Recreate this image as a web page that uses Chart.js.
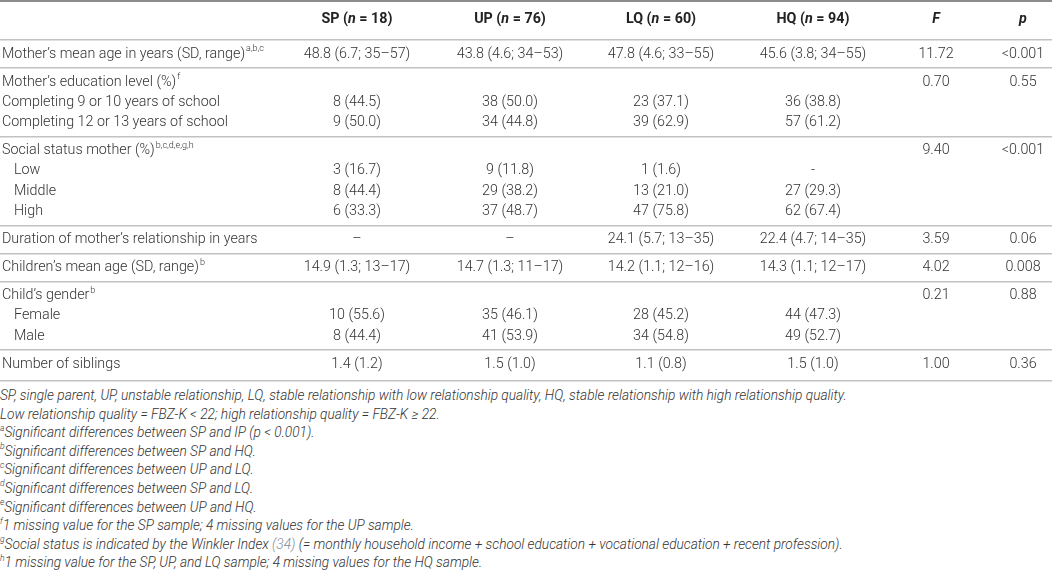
<!DOCTYPE html>
<html>
<head>
<meta charset="utf-8">
<script src="https://cdn.jsdelivr.net/npm/chart.js@4"></script>
<style>
    html, body { margin: 0; padding: 0; background: #fff; }
    #tableChart { display: block; }
    .notes {
        font-family: Roboto, "Liberation Sans", sans-serif;
        font-weight: 300;
        font-style: italic;
        font-size: 13.7px;
        line-height: 18.6px;
        color: #333;
        padding-left: 0;
        white-space: nowrap;
    }
    .notes sup { font-size: 8.5px; line-height: 0; position: relative; top: -1px; vertical-align: super; }
    .notes .ref { color: #7f8d9c; }
</style>
</head>
<body>
<canvas id="tableChart" width="1052" height="386"></canvas>
<div class="notes">
    <div>SP, single parent, UP, unstable relationship, LQ, stable relationship with low relationship quality, HQ, stable relationship with high relationship quality.</div>
    <div>Low relationship quality = FBZ-K &lt; 22; high relationship quality = FBZ-K ≥ 22.</div>
    <div><sup>a</sup>Significant differences between SP and IP (p &lt; 0.001).</div>
    <div><sup>b</sup>Significant differences between SP and HQ.</div>
    <div><sup>c</sup>Significant differences between UP and LQ.</div>
    <div><sup>d</sup>Significant differences between SP and LQ.</div>
    <div><sup>e</sup>Significant differences between UP and HQ.</div>
    <div><sup>f</sup>1 missing value for the SP sample; 4 missing values for the UP sample.</div>
    <div><sup>g</sup>Social status is indicated by the Winkler Index <span class="ref">(34)</span> (= monthly household income + school education + vocational education + recent profession).</div>
    <div><sup>h</sup>1 missing value for the SP, UP, and LQ sample; 4 missing values for the HQ sample.</div>
</div>
<script>
// Данные таблицы
const groups = ['SP', 'UP', 'LQ', 'HQ'];
const groupSizes = [18, 76, 60, 94];
const statHeaders = ['F', 'p'];

const rowLabels = [
    "Mother’s mean age in years (SD, range)",
    "Mother’s education level (%)",
    "Completing 9 or 10 years of school",
    "Completing 12 or 13 years of school",
    "Social status mother (%)",
    "Low",
    "Middle",
    "High",
    "Duration of mother’s relationship in years",
    "Children’s mean age (SD, range)",
    "Child’s gender",
    "Female",
    "Male",
    "Number of siblings"
];
const rowNotes = ['a,b,c', 'f', '', '', 'b,c,d,e,g,h', '', '', '', '', 'b', 'b', '', '', ''];
const rowGroup = [0, 1, 1, 1, 2, 2, 2, 2, 3, 4, 5, 5, 5, 6];
const rowIndent = [0, 0, 0, 0, 0, 1, 1, 1, 0, 0, 0, 1, 1, 0];

const spValues = ['48.8 (6.7; 35–57)', '', '8 (44.5)', '9 (50.0)', '', '3 (16.7)', '8 (44.4)', '6 (33.3)', '–', '14.9 (1.3; 13–17)', '', '10 (55.6)', '8 (44.4)', '1.4 (1.2)'];
const upValues = ['43.8 (4.6; 34–53)', '', '38 (50.0)', '34 (44.8)', '', '9 (11.8)', '29 (38.2)', '37 (48.7)', '–', '14.7 (1.3; 11–17)', '', '35 (46.1)', '41 (53.9)', '1.5 (1.0)'];
const lqValues = ['47.8 (4.6; 33–55)', '', '23 (37.1)', '39 (62.9)', '', '1 (1.6)', '13 (21.0)', '47 (75.8)', '24.1 (5.7; 13–35)', '14.2 (1.1; 12–16)', '', '28 (45.2)', '34 (54.8)', '1.1 (0.8)'];
const hqValues = ['45.6 (3.8; 34–55)', '', '36 (38.8)', '57 (61.2)', '', '-', '27 (29.3)', '62 (67.4)', '22.4 (4.7; 14–35)', '14.3 (1.1; 12–17)', '', '44 (47.3)', '49 (52.7)', '1.5 (1.0)'];
const fValues = ['11.72', '0.70', '', '', '9.40', '', '', '', '3.59', '4.02', '0.21', '', '', '1.00'];
const pValues = ['<0.001', '0.55', '', '', '<0.001', '', '', '', '0.06', '0.008', '0.88', '', '', '0.36'];

// Раскладка
const valueColumns = [spValues, upValues, lqValues, hqValues, fValues, pValues];
const COL_X = [357, 510, 661, 813, 936, 1023];
const LABEL_X = 2;
const INDENT = 12;
const HEAD_GAP = 0.68;
const SEP_GAP = 0.38;
const Y_MIN = -0.98;
const PX_PER_ROW = 20.3;

const FONT = 'Roboto, "Liberation Sans", sans-serif';
const TEXT_COLOR = '#333';
const TEXT_SIZE = 14.3;

const headerPos = 0;
const rowPos = [];
rowLabels.forEach((_, i) => {
    if (i === 0) rowPos.push(headerPos + 1 + HEAD_GAP);
    else rowPos.push(rowPos[i - 1] + 1 + (rowGroup[i] !== rowGroup[i - 1] ? SEP_GAP : 0));
});

const separators = [{ value: -0.93 }, { value: headerPos + 0.98 }];
rowPos.forEach((p, i) => {
    const last = i === rowPos.length - 1;
    if (last || rowGroup[i + 1] !== rowGroup[i]) {
        separators.push({ value: p + (last ? 0.8 : 0.5 + SEP_GAP / 2) });
    }
});

// Наборы данных: одна колонка = один dataset
const datasets = [];
datasets.push({
    label: 'labels',
    kind: 'label',
    data: rowLabels.map((t, i) => ({ x: LABEL_X + rowIndent[i] * INDENT, y: rowPos[i], text: t, note: rowNotes[i] }))
});
datasets.push({
    label: 'header',
    kind: 'header',
    data: groups.map((g, i) => ({ x: COL_X[i], y: headerPos, runs: [[g + ' (', 'bold'], ['n', 'bold italic'], [' = ' + groupSizes[i] + ')', 'bold']] }))
        .concat(statHeaders.map((h, i) => ({ x: COL_X[4 + i], y: headerPos, runs: [[h, 'bold italic']] })))
});
valueColumns.forEach((col, c) => {
    datasets.push({
        label: c < 4 ? groups[c] : statHeaders[c - 4],
        kind: 'cell',
        data: col.map((t, i) => ({ x: COL_X[c], y: rowPos[i], text: t })).filter(d => d.text !== '')
    });
});
datasets.forEach(d => { d.pointRadius = 0; d.pointHoverRadius = 0; });

const cellText = {
    id: 'cellText',
    afterDatasetsDraw(chart) {
        const ctx = chart.ctx;
        ctx.save();
        ctx.textBaseline = 'middle';
        chart.data.datasets.forEach((ds, di) => {
            const meta = chart.getDatasetMeta(di);
            meta.data.forEach((el, i) => {
                const d = ds.data[i];
                if (ds.kind === 'label') {
                    ctx.fillStyle = TEXT_COLOR;
                    ctx.font = '300 ' + TEXT_SIZE + 'px ' + FONT;
                    ctx.textAlign = 'left';
                    ctx.fillText(d.text, el.x, el.y);
                    if (d.note) {
                        const w = ctx.measureText(d.text).width;
                        ctx.font = '300 9px ' + FONT;
                        ctx.fillText(d.note, el.x + w + 1, el.y - 5);
                    }
                } else if (ds.kind === 'header') {
                    ctx.fillStyle = '#222';
                    ctx.textAlign = 'left';
                    const fonts = d.runs.map(r => (r[1] === 'bold' ? 'bold' : 'italic bold') + ' ' + TEXT_SIZE + 'px ' + FONT);
                    let total = 0;
                    const widths = d.runs.map((r, k) => { ctx.font = fonts[k]; const w = ctx.measureText(r[0]).width; total += w; return w; });
                    let x = el.x - total / 2;
                    d.runs.forEach((r, k) => { ctx.font = fonts[k]; ctx.fillText(r[0], x, el.y); x += widths[k]; });
                } else {
                    ctx.fillStyle = TEXT_COLOR;
                    ctx.font = '300 ' + TEXT_SIZE + 'px ' + FONT;
                    ctx.textAlign = 'center';
                    ctx.fillText(d.text, el.x, el.y);
                }
            });
        });
        ctx.restore();
    }
};

new Chart(document.getElementById('tableChart'), {
    type: 'scatter',
    data: { datasets },
    options: {
        responsive: false,
        animation: false,
        events: [],
        layout: { padding: 0 },
        plugins: { legend: { display: false }, tooltip: { enabled: false } },
        scales: {
            x: { type: 'linear', min: 0, max: 1052, display: false },
            y: {
                type: 'linear',
                reverse: true,
                min: Y_MIN,
                max: Y_MIN + 386 / PX_PER_ROW,
                afterBuildTicks: scale => { scale.ticks = separators.map(s => ({ value: s.value })); },
                ticks: { display: false },
                border: { display: false },
                grid: {
                    drawTicks: false,
                    color: ctx => (ctx.index === 0 ? '#8c8c8c' : '#c2c2c2'),
                    lineWidth: ctx => (ctx.index === 0 ? 2 : 1.5)
                }
            }
        }
    },
    plugins: [cellText]
});
</script>
</body>
</html>
